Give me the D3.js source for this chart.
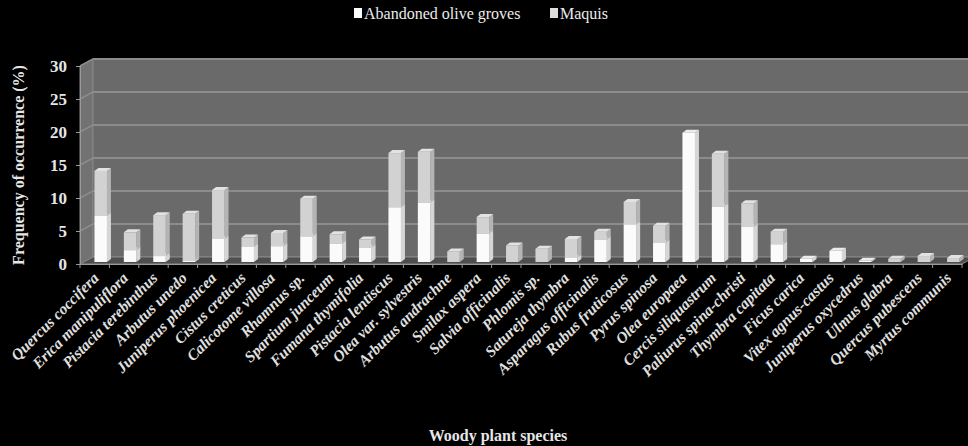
<!DOCTYPE html>
<html>
<head>
<meta charset="utf-8">
<script src="https://cdn.jsdelivr.net/npm/d3@7"></script>
<style>
  html, body { margin: 0; padding: 0; background: #000; }
  svg { display: block; font-family: "Liberation Serif", "Times New Roman", serif; }
</style>
</head>
<body>
<div id="chart"></div>
<script>
// Espécies lenhosas e frequência de ocorrência (%)
const species = [
  'Quercus coccifera', 'Erica manipuliflora', 'Pistacia terebinthus', 'Arbutus unedo',
  'Juniperus phoenicea', 'Cistus creticus', 'Calicotome villosa', 'Rhamnus sp.',
  'Spartium junceum', 'Fumana thymifolia', 'Pistacia lentiscus', 'Olea var. sylvestris',
  'Arbutus andrachne', 'Smilax aspera', 'Salvia officinalis', 'Phlomis sp.',
  'Satureja thymbra', 'Asparagus officinalis', 'Rubus fruticosus', 'Pyrus spinosa',
  'Olea europaea', 'Cercis siliquastrum', 'Paliurus spina-christi', 'Thymbra capitata',
  'Ficus carica', 'Vitex agnus-castus', 'Juniperus oxycedrus', 'Ulmus glabra',
  'Quercus pubescens', 'Myrtus communis'
];
const abandoned = [7.0, 1.8, 0.9, 0.2, 3.5, 2.3, 2.4, 3.9, 2.8, 2.2, 8.3, 9.0, 0, 4.3, 0,
                   0, 0.7, 3.4, 5.7, 2.9, 19.6, 8.4, 5.3, 2.7, 0.5, 1.7, 0.2, 0, 0, 0];
const maquis = [6.8, 2.7, 6.2, 7.1, 7.4, 1.4, 2.0, 5.7, 1.4, 1.2, 8.2, 7.7, 1.6, 2.5, 2.5,
                2.0, 2.8, 1.2, 3.4, 2.6, 0, 8.0, 3.6, 1.9, 0, 0, 0, 0.5, 0.9, 0.6];
const seriesNames = ['Abandoned olive groves', 'Maquis'];
const yTicks = [0, 5, 10, 15, 20, 25, 30];

const W = 968, H = 446;
const plotLeft = 80, plotRight = 962, plotTop = 66, plotBottom = 264;
const wall = { dx: 13, dy: -7 };     // deslocamento da parede de fundo
const face = { dx: 6, dy: -2 };      // posição da face frontal das barras
const depth = { dx: 4, dy: -3 };     // profundidade das barras

const svg = d3.select('#chart').append('svg')
  .attr('width', W).attr('height', H);
svg.append('rect').attr('width', W).attr('height', H).attr('fill', '#000');

const x = d3.scaleBand().domain(species).range([plotLeft, plotRight]);
const y = d3.scaleLinear().domain([0, 30]).range([plotBottom, plotTop]);

// Parede lateral, parede de fundo e chão
svg.append('polygon')
  .attr('points', [[plotLeft, y(30)], [plotLeft + wall.dx, y(30) + wall.dy], [plotLeft + wall.dx, y(0) + wall.dy], [plotLeft, y(0)]].join(' '))
  .attr('fill', '#727272').attr('stroke', '#8a8a8a').attr('stroke-width', 1);
svg.append('rect')
  .attr('x', plotLeft + wall.dx).attr('y', y(30) + wall.dy)
  .attr('width', plotRight - plotLeft).attr('height', y(0) - y(30))
  .attr('fill', '#6a6a6a').attr('stroke', '#858585');
svg.append('polygon')
  .attr('points', [[plotLeft, y(0)], [plotRight, y(0)], [plotRight + wall.dx, y(0) + wall.dy], [plotLeft + wall.dx, y(0) + wall.dy]].join(' '))
  .attr('fill', '#4e4e4e').attr('stroke', '#8a8a8a').attr('stroke-width', 1);

// Linhas de grade
yTicks.filter(d => d > 0).forEach(t => {
  svg.append('line')
    .attr('x1', plotLeft + wall.dx).attr('x2', plotRight + wall.dx)
    .attr('y1', y(t) + wall.dy).attr('y2', y(t) + wall.dy)
    .attr('stroke', '#8c8c8c').attr('stroke-width', 2);
  svg.append('line')
    .attr('x1', plotLeft).attr('x2', plotLeft + wall.dx)
    .attr('y1', y(t)).attr('y2', y(t) + wall.dy)
    .attr('stroke', '#8c8c8c').attr('stroke-width', 1.5);
});

// Eixo Y
const yAxis = svg.append('g')
  .attr('transform', `translate(${plotLeft},0)`)
  .call(d3.axisLeft(y).tickValues(yTicks).tickSize(4).tickPadding(9));
yAxis.select('.domain').attr('stroke', '#9a9a9a');
yAxis.selectAll('line').attr('stroke', '#9a9a9a');
yAxis.selectAll('text')
  .attr('fill', '#e6e6e6')
  .style('font-size', '17px')
  .style('font-weight', 'bold')
  .style('font-family', '"Liberation Serif", serif');

// Eixo X
const xAxis = svg.append('g')
  .attr('transform', `translate(0,${plotBottom})`)
  .call(d3.axisBottom(x).tickSize(0).tickFormat(''));
xAxis.select('.domain').attr('stroke', '#9a9a9a');
d3.range(species.length + 1).forEach(i => {
  const xp = plotLeft + i * x.step();
  svg.append('line')
    .attr('x1', xp).attr('x2', xp)
    .attr('y1', plotBottom).attr('y2', plotBottom + 4)
    .attr('stroke', '#9a9a9a');
});

species.forEach(s => {
  svg.append('text')
    .attr('transform', `translate(${x(s) + x.bandwidth() / 2 + 5},${plotBottom + 15}) rotate(-45)`)
    .attr('text-anchor', 'end')
    .attr('fill', '#e0e0e0')
    .style('font-size', '15.5px')
    .style('font-weight', 'bold')
    .style('font-style', 'italic')
    .text(s);
});

// Barras empilhadas 3D
const table = species.map((s, i) => ({ species: s, abandoned: abandoned[i], maquis: maquis[i] }));
const stack = d3.stack().keys(['abandoned', 'maquis'])(table);
const colors = {
  abandoned: { front: '#fbfbfb', side: '#d6d6d6', top: '#ececec' },
  maquis: { front: '#d2d2d2', side: '#b4b4b4', top: '#e2e2e2' }
};
const barW = 12.5;

stack.forEach(layer => {
  const c = colors[layer.key];
  layer.forEach((d, i) => {
    if (d[1] - d[0] <= 0) return;
    const x0 = x(species[i]) + x.bandwidth() / 2 - barW / 2 + face.dx;
    const x1 = x0 + barW;
    const yb = y(d[0]) + face.dy;
    const yt = y(d[1]) + face.dy;
    const g = svg.append('g');
    g.append('polygon')
      .attr('points', [[x1, yb], [x1 + depth.dx, yb + depth.dy], [x1 + depth.dx, yt + depth.dy], [x1, yt]].join(' '))
      .attr('fill', c.side);
    g.append('rect')
      .attr('x', x0).attr('y', yt)
      .attr('width', barW).attr('height', Math.max(0, yb - yt))
      .attr('fill', c.front);
    g.append('polygon')
      .attr('points', [[x0, yt], [x1, yt], [x1 + depth.dx, yt + depth.dy], [x0 + depth.dx, yt + depth.dy]].join(' '))
      .attr('fill', c.top);
  });
});

// Títulos dos eixos
svg.append('text')
  .attr('transform', `translate(24,${(plotTop + plotBottom) / 2}) rotate(-90)`)
  .attr('text-anchor', 'middle')
  .attr('fill', '#e6e6e6')
  .style('font-size', '16px')
  .style('font-weight', 'bold')
  .text('Frequency of occurrence (%)');

svg.append('text')
  .attr('x', 498).attr('y', 441)
  .attr('text-anchor', 'middle')
  .attr('fill', '#e6e6e6')
  .style('font-size', '16px')
  .style('font-weight', 'bold')
  .text('Woody plant species');

// Legenda
const legend = svg.append('g').attr('transform', 'translate(354,19)');
const legendItems = [
  { name: seriesNames[0], color: '#fbfbfb', x: 0 },
  { name: seriesNames[1], color: '#dedede', x: 196 }
];
legendItems.forEach(item => {
  legend.append('rect')
    .attr('x', item.x).attr('y', -11)
    .attr('width', 8).attr('height', 10)
    .attr('fill', item.color);
  legend.append('text')
    .attr('x', item.x + 10).attr('y', 0)
    .attr('fill', '#ececec')
    .style('font-size', '16px')
    .text(item.name);
});
</script>
</body>
</html>
